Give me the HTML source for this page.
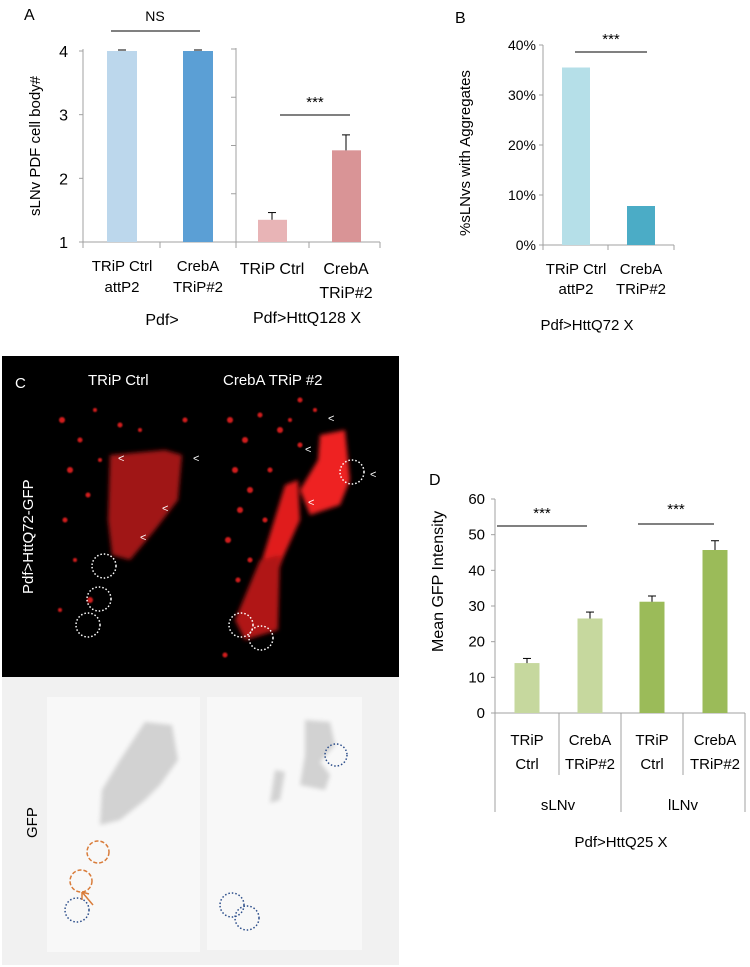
<!DOCTYPE html>
<html><head><meta charset="utf-8"><style>
html,body{margin:0;padding:0;background:#fff;}
svg{display:block;font-family:"Liberation Sans",sans-serif;}
</style></head><body>
<svg width="750" height="967" viewBox="0 0 750 967" xmlns="http://www.w3.org/2000/svg">
<defs><filter id="bl"><feGaussianBlur stdDeviation="2"/></filter><filter id="bl1"><feGaussianBlur stdDeviation="0.8"/></filter></defs>
<g id="pa"></g>
<g id="pb"></g>
<g id="pc">
  <rect x="2" y="356" width="397" height="321" fill="#000"/>
  <rect x="2" y="677" width="397" height="288" fill="#f1f1f1"/>
  <rect x="47" y="697" width="153" height="255" fill="#f8f8f8"/>
  <rect x="207" y="697" width="155" height="253" fill="#f8f8f8"/>
  <g filter="url(#bl)" fill="#c81a1a">
    <path d="M110 455 L165 450 L182 455 L178 500 L155 530 L130 560 L112 555 L108 520 Z" fill="#a01515"/>
    <path d="M320 435 L345 430 L350 480 L340 505 L310 515 L300 490 L318 460 Z" fill="#ee2020"/>
    <path d="M285 485 L298 480 L300 520 L282 560 L270 600 L260 620 L262 560 Z" fill="#e01c1c"/>
    <path d="M260 560 L280 555 L278 630 L245 640 L235 620 Z" fill="#b01818"/>
  </g>
  <g fill="#d01c1c" filter="url(#bl1)">
    <circle cx="62" cy="420" r="3"/><circle cx="80" cy="440" r="2.5"/><circle cx="95" cy="410" r="2"/><circle cx="70" cy="470" r="3"/><circle cx="88" cy="495" r="2.5"/><circle cx="65" cy="520" r="2.5"/><circle cx="100" cy="460" r="2"/><circle cx="120" cy="425" r="2.5"/><circle cx="140" cy="430" r="2"/><circle cx="75" cy="560" r="2"/><circle cx="90" cy="600" r="3"/><circle cx="60" cy="610" r="2"/><circle cx="185" cy="420" r="2.5"/>
    <circle cx="230" cy="420" r="3"/><circle cx="245" cy="440" r="3"/><circle cx="260" cy="415" r="2.5"/><circle cx="280" cy="430" r="3"/><circle cx="300" cy="445" r="2.5"/><circle cx="235" cy="470" r="3"/><circle cx="250" cy="490" r="3"/><circle cx="270" cy="470" r="2.5"/><circle cx="240" cy="510" r="3"/><circle cx="265" cy="520" r="2.5"/><circle cx="300" cy="400" r="2.5"/><circle cx="228" cy="540" r="3"/><circle cx="250" cy="560" r="2.5"/><circle cx="290" cy="420" r="2"/><circle cx="315" cy="410" r="2"/><circle cx="238" cy="580" r="2.5"/><circle cx="225" cy="655" r="2.5"/>
  </g>
  <g fill="none" stroke="#fff" stroke-width="1.5" stroke-dasharray="1.5 2">
    <circle cx="104" cy="566" r="12"/><circle cx="99" cy="599" r="12"/><circle cx="88" cy="625" r="12"/>
    <circle cx="241" cy="625" r="12"/><circle cx="261" cy="638" r="12"/><circle cx="352" cy="472" r="12"/>
  </g>
  <g fill="#fff" font-size="11">
    <text x="118" y="462">&lt;</text><text x="193" y="462">&lt;</text><text x="162" y="512">&lt;</text><text x="140" y="541">&lt;</text>
    <text x="328" y="422">&lt;</text><text x="305" y="453">&lt;</text><text x="370" y="478">&lt;</text><text x="308" y="506">&lt;</text>
  </g>
  <text x="15" y="388" fill="#fff" font-size="15">C</text>
  <text x="88" y="385" fill="#fff" font-size="15">TRiP Ctrl</text>
  <text x="223" y="385" fill="#fff" font-size="15">CrebA TRiP #2</text>
  <text transform="translate(33,594) rotate(-90)" fill="#fff" font-size="15">Pdf&gt;HttQ72-GFP</text>
  <text transform="translate(37,838) rotate(-90)" fill="#000" font-size="15">GFP</text>
  <g filter="url(#bl)" fill="#d2d2d2">
    <path d="M145 722 L172 725 L178 760 L160 785 L145 800 L120 820 L100 825 L102 790 L120 760 Z"/>
    <path d="M305 720 L330 722 L335 745 L320 762 L330 775 L325 790 L300 785 L305 755 Z"/>
    <path d="M275 770 L285 772 L280 800 L270 803 Z"/>
  </g>
  <g fill="none" stroke-width="1.5">
    <circle cx="98" cy="852" r="11" stroke="#d97c3a" stroke-dasharray="4 2"/><circle cx="81" cy="881" r="11" stroke="#d97c3a" stroke-dasharray="4 2"/>
    <circle cx="77" cy="910" r="12" stroke="#2b4d8a" stroke-dasharray="1.5 2"/>
    <circle cx="232" cy="905" r="12" stroke="#2b4d8a" stroke-dasharray="1.5 2"/><circle cx="247" cy="918" r="12" stroke="#2b4d8a" stroke-dasharray="1.5 2"/><circle cx="336" cy="755" r="11" stroke="#2b4d8a" stroke-dasharray="1.5 2"/>
    <path d="M82 892 L93 905 M82 892 L82 900 M82 892 L89 894" stroke="#d97c3a"/>
  </g>
</g>
<g id="pd"></g>
</svg>
<script>
const NS="http://www.w3.org/2000/svg";
function mk(p,t,a,txt){const e=document.createElementNS(NS,t);for(const k in a)e.setAttribute(k,a[k]);if(txt!==undefined)e.textContent=txt;p.appendChild(e);return e;}
const AX="#a0a0a0";

// Panel A data
const aLeftCats=["TRiP Ctrl|attP2","CrebA|TRiP#2"];
const aLeftVals=[4,4];
const aLeftErr=[0,0];
const aRightCats=["TRiP Ctrl","CrebA|TRiP#2"];
const aRightVals=[1.46,2.9];
const aRightErr=[0.15,0.32];
const aTicks=[1,2,3,4];
// Panel B data
const bCats=["TRiP Ctrl|attP2","CrebA|TRiP#2"];
const bVals=[35.5,7.8];
const bTicks=[0,10,20,30,40];
// Panel D data
const dCats=["TRiP|Ctrl","CrebA|TRiP#2","TRiP|Ctrl","CrebA|TRiP#2"];
const dGroups=["sLNv","lLNv"];
const dVals=[14,26.5,31.2,45.7];
const dErr=[1.3,1.8,1.6,2.6];
const dTicks=[0,10,20,30,40,50,60];

function multi(g,x,y,s,fs,lh,name){const parts=s.split('|');parts.forEach((p,i)=>{const t=mk(g,'text',{x:x,y:y+i*lh,'text-anchor':'middle','font-size':fs},p);

});}

// ---- Panel A
const pa=document.getElementById('pa');
const ay=v=>242-(v-1)*(191/3);
mk(pa,'text',{x:24,y:20,'font-size':16},'A');
mk(pa,'line',{x1:83,y1:49,x2:83,y2:242,stroke:AX});
mk(pa,'line',{x1:83,y1:242,x2:380,y2:242,stroke:AX});
[83,160,236,309,380].forEach(x=>mk(pa,'line',{x1:x,y1:242,x2:x,y2:248,stroke:AX}));
aTicks.forEach(v=>{mk(pa,'line',{x1:79,y1:ay(v),x2:83,y2:ay(v),stroke:AX});
const t=mk(pa,'text',{x:68,y:ay(v)+6,'text-anchor':'end','font-size':16},String(v));

});
const tA=mk(pa,'text',{transform:'translate(40,216) rotate(-90)','font-size':15},'sLNv PDF cell body#');


const aLx=[122,198],aLc=["#bcd7ec","#5b9fd5"];
aLeftVals.forEach((v,i)=>{const r=mk(pa,'rect',{x:aLx[i]-15,y:ay(v),width:30,height:242-ay(v),fill:aLc[i]});


mk(pa,'line',{x1:aLx[i]-4,y1:ay(v+aLeftErr[i])-1,x2:aLx[i]+4,y2:ay(v+aLeftErr[i])-1,stroke:'#000'});
multi(pa,aLx[i],271,aLeftCats[i],15,21,'x-label-a');});
const ry=v=>242-v*(193/4);
mk(pa,'line',{x1:236,y1:48,x2:236,y2:242,stroke:AX});
[1,2,3,4].forEach(k=>mk(pa,'line',{x1:231,y1:ry(k),x2:236,y2:ry(k),stroke:AX}));
const aRx=[272,346],aRc=["#e8b4b6","#d99496"];
aRightVals.forEach((v,i)=>{const y=ry(v-1),ye=ry(v-1+aRightErr[i]);
const r=mk(pa,'rect',{x:aRx[i]-14,y:y,width:29,height:242-y,fill:aRc[i]});


mk(pa,'line',{x1:aRx[i],y1:y,x2:aRx[i],y2:ye,stroke:'#000'});
mk(pa,'line',{x1:aRx[i]-4,y1:ye,x2:aRx[i]+4,y2:ye,stroke:'#000'});
multi(pa,aRx[i],274,aRightCats[i],16,24,'x-label-a-right');});
mk(pa,'line',{x1:111,y1:31,x2:200,y2:31,stroke:'#000'});
mk(pa,'text',{x:155,y:21,'text-anchor':'middle','font-size':14},'NS');
mk(pa,'line',{x1:280,y1:115,x2:350,y2:115,stroke:'#000'});
mk(pa,'text',{x:315,y:107,'text-anchor':'middle','font-size':15},'***');
mk(pa,'text',{x:162,y:325,'text-anchor':'middle','font-size':16},'Pdf>');
mk(pa,'text',{x:307,y:323,'text-anchor':'middle','font-size':16},'Pdf>HttQ128 X');

// ---- Panel B
const pb=document.getElementById('pb');
const by=v=>245-v*5;
mk(pb,'text',{x:455,y:23,'font-size':16},'B');
mk(pb,'line',{x1:543,y1:45,x2:543,y2:245,stroke:AX});
mk(pb,'line',{x1:543,y1:245,x2:674,y2:245,stroke:AX});
[543,608,674].forEach(x=>mk(pb,'line',{x1:x,y1:245,x2:x,y2:250,stroke:AX}));
bTicks.forEach(v=>{mk(pb,'line',{x1:539,y1:by(v),x2:543,y2:by(v),stroke:AX});
const t=mk(pb,'text',{x:536,y:by(v)+5,'text-anchor':'end','font-size':14},v+'%');

});
const bx=[576,641],bc=["#b5dfe8","#4bacc6"];
bVals.forEach((v,i)=>{const r=mk(pb,'rect',{x:bx[i]-14,y:by(v),width:28,height:245-by(v),fill:bc[i]});


multi(pb,bx[i],274,bCats[i],15,20,'x-label-b');});
const tB=mk(pb,'text',{transform:'translate(470,236) rotate(-90)','font-size':15},'%sLNvs with Aggregates');


mk(pb,'line',{x1:575,y1:52,x2:647,y2:52,stroke:'#000'});
mk(pb,'text',{x:611,y:44,'text-anchor':'middle','font-size':15},'***');
mk(pb,'text',{x:587,y:330,'text-anchor':'middle','font-size':15},'Pdf>HttQ72 X');

// ---- Panel D
const pd=document.getElementById('pd');
const dy=v=>713-v*(214/60);
mk(pd,'text',{x:429,y:485,'font-size':16},'D');
mk(pd,'line',{x1:495,y1:499,x2:495,y2:812,stroke:AX});
mk(pd,'line',{x1:495,y1:713,x2:745,y2:713,stroke:AX});
[559,683].forEach(x=>mk(pd,'line',{x1:x,y1:713,x2:x,y2:775,stroke:AX}));
[621,745].forEach(x=>mk(pd,'line',{x1:x,y1:713,x2:x,y2:812,stroke:AX}));
dTicks.forEach(v=>{mk(pd,'line',{x1:491,y1:dy(v),x2:495,y2:dy(v),stroke:AX});
const t=mk(pd,'text',{x:485,y:dy(v)+5,'text-anchor':'end','font-size':15},String(v));

});
const tD=mk(pd,'text',{transform:'translate(443,652) rotate(-90)','font-size':16},'Mean GFP Intensity');


const dx=[527,590,652,715],dc=["#c6d89e","#c6d89e","#9bbb59","#9bbb59"];
dVals.forEach((v,i)=>{const y=dy(v),ye=dy(v+dErr[i]);
const r=mk(pd,'rect',{x:dx[i]-12.5,y:y,width:25,height:713-y,fill:dc[i]});


mk(pd,'line',{x1:dx[i],y1:y,x2:dx[i],y2:ye,stroke:'#000'});
mk(pd,'line',{x1:dx[i]-4,y1:ye,x2:dx[i]+4,y2:ye,stroke:'#000'});
multi(pd,dx[i],745,dCats[i],15,24,'x-label-d');});
dGroups.forEach((g,i)=>{const t=mk(pd,'text',{x:[558,683][i],y:810,'text-anchor':'middle','font-size':15},g);

});
mk(pd,'line',{x1:497,y1:526,x2:587,y2:526,stroke:'#000'});
mk(pd,'text',{x:542,y:518,'text-anchor':'middle','font-size':15},'***');
mk(pd,'line',{x1:638,y1:524,x2:714,y2:524,stroke:'#000'});
mk(pd,'text',{x:676,y:514,'text-anchor':'middle','font-size':15},'***');
mk(pd,'text',{x:621,y:847,'text-anchor':'middle','font-size':15},'Pdf>HttQ25 X');
</script>
</body></html>
